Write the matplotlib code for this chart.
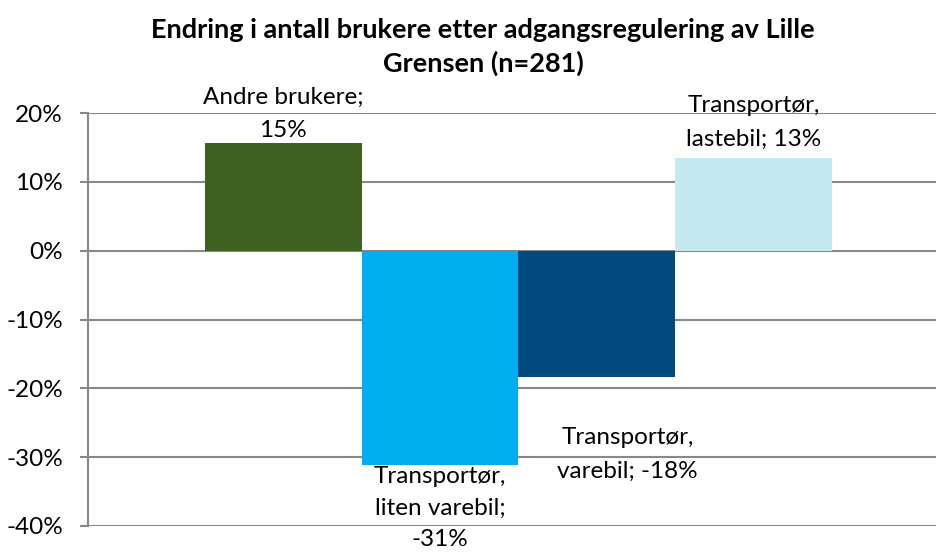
import numpy as np
import matplotlib
matplotlib.use("Agg")
from matplotlib import pyplot as plt
from matplotlib.ticker import FuncFormatter

# data
series = ["Andre brukere", "Transportør, liten varebil", "Transportør, varebil", "Transportør, lastebil"]
values = [0.156, -0.312, -0.184, 0.134]
labels = ["Andre brukere;\n15%", "Transportør,\nliten varebil;\n-31%",
          "Transportør,\nvarebil; -18%", "Transportør,\nlastebil; 13%"]
colors = ["#3F6121", "#00AEEF", "#004A7F", "#C5E9F1"]
yticks = [-0.4, -0.3, -0.2, -0.1, 0.0, 0.1, 0.2]

plt.rcParams['font.family'] = ['Lato', 'DejaVu Sans']

W, H = 937, 552
fig = plt.figure(figsize=(W / 100, H / 100), dpi=100)
# axes box in pixels: left 88, right 937, top 113, bottom 526
ax = fig.add_axes([88 / W, (H - 526) / H, (937 - 88) / W, (526 - 113) / H])

x = np.arange(len(values))
ax.bar(x, values, width=1.0, color=colors, zorder=3)

# bars span px 205..832 -> 156.75 px per unit
unit = (832 - 205) / 4
ax.set_xlim(-0.5 - (205 - 88) / unit, -0.5 + (937 - 88 - (205 - 88)) / unit)
ax.set_ylim(-0.4, 0.2)
ax.set_yticks(yticks)
ax.yaxis.set_major_formatter(FuncFormatter(lambda v, p: f"{v * 100:.0f}%"))
ax.set_xticks([])
ax.tick_params(axis='y', length=6, width=1.5, color="#888888", labelsize=17.5, pad=12)
ax.grid(axis='y', color="#888888", linewidth=1.5, zorder=0)
for s in ["top", "right", "bottom"]:
    ax.spines[s].set_visible(False)
ax.spines["left"].set_color("#888888")
ax.spines["left"].set_linewidth(1.5)

# data labels
kw = dict(ha='center', fontsize=17.5, linespacing=1.75, textcoords='offset points')
ax.annotate(labels[0], (x[0], values[0]), xytext=(0, 1.5), va='bottom', **kw)
ax.annotate(labels[1], (x[1], values[1]), xytext=(0, -0.5), va='top', fontsize=17.5,
            ha='center', linespacing=1.62, textcoords='offset points')
ax.annotate(labels[2], (x[2], values[2]), xytext=(22, -35.5), va='top', **kw)
ax.annotate(labels[3], (x[3], values[3]), xytext=(0, 6), va='bottom', **kw)

fig.text(483 / W, 1 - 18 / H, "Endring i antall brukere etter adgangsregulering av Lille\nGrensen (n=281)",
         ha='center', va='top', fontsize=19.5, fontweight='bold', linespacing=1.42)

fig.savefig("out.png", dpi=100)
